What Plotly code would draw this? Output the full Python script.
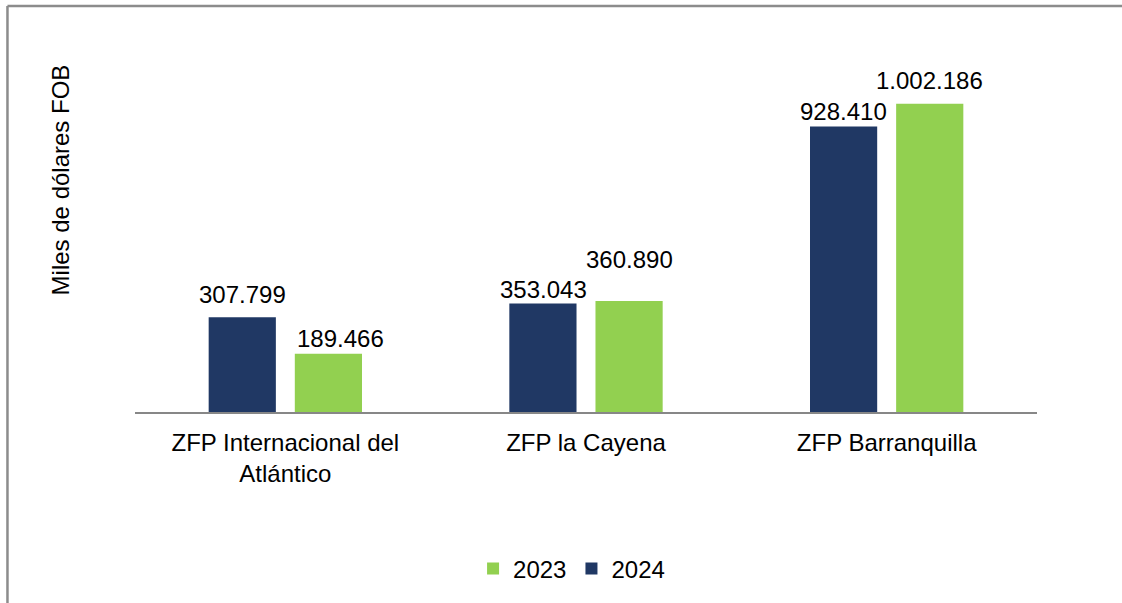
import plotly.graph_objects as go

# ---- data ----
categories = ["ZFP Internacional del<br>Atlántico", "ZFP la Cayena", "ZFP Barranquilla"]
series_names = ["2024", "2023"]
values_2024 = [307799, 353043, 928410]
values_2023 = [189466, 360890, 1002186]
labels_2024 = ["307.799", "353.043", "928.410"]
labels_2023 = ["189.466", "360.890", "1.002.186"]
y_title = "Miles de dólares FOB"

# ---- style ----
FONT = "Arial, 'Liberation Sans', sans-serif"
NAVY = "#203864"
GREEN = "#92D050"
AXIS_GRAY = "#878787"
lift_2024 = [23, 14, 15]
lift_2023 = [15, 42, 23]
nudge_2024 = [0, 0, 0]
nudge_2023 = [12, 0, 0]
GROUP_OFFSET = 43

fig = go.Figure()
fig.add_trace(go.Bar(name=series_names[0], x=categories, y=values_2024,
                     marker=dict(color=NAVY, line=dict(width=0))))
fig.add_trace(go.Bar(name=series_names[1], x=categories, y=values_2023,
                     marker=dict(color=GREEN, line=dict(width=0))))

annotations = []
for i, c in enumerate(categories):
    annotations.append(dict(x=c, y=values_2024[i], xref="x", yref="y", text=labels_2024[i],
                            showarrow=False, xshift=-GROUP_OFFSET + nudge_2024[i],
                            yshift=lift_2024[i], yanchor="middle",
                            font=dict(family=FONT, size=24, color="black")))
    annotations.append(dict(x=c, y=values_2023[i], xref="x", yref="y", text=labels_2023[i],
                            showarrow=False, xshift=GROUP_OFFSET + nudge_2023[i],
                            yshift=lift_2023[i], yanchor="middle",
                            font=dict(family=FONT, size=24, color="black")))
annotations.append(dict(x=-0.083, y=0.628, xref="paper", yref="paper", text=y_title,
                        textangle=-90, showarrow=False, xanchor="center", yanchor="middle",
                        font=dict(family=FONT, size=24, color="black")))

fig.update_layout(
    width=1122, height=603, autosize=False,
    margin=dict(l=135, r=85, t=43, b=189, pad=0),
    paper_bgcolor="white", plot_bgcolor="white",
    font=dict(family=FONT, size=24, color="black"),
    barmode="group", bargap=0.427, bargroupgap=0.22,
    showlegend=True,
    legend=dict(orientation="h", x=0.484, xanchor="center", y=-0.425, yanchor="middle",
                traceorder="reversed", font=dict(family=FONT, size=24, color="black"),
                itemwidth=30, bgcolor="rgba(0,0,0,0)"),
    xaxis=dict(showline=True, linecolor=AXIS_GRAY, linewidth=2, ticks="",
               showgrid=False, zeroline=False, ticklabelstandoff=8,
               tickfont=dict(family=FONT, size=24, color="black")),
    yaxis=dict(range=[0, 1200000], showline=False, showgrid=False, zeroline=False,
               showticklabels=False, ticks=""),
    annotations=annotations,
    shapes=[
        dict(type="line", xref="paper", yref="paper", x0=-0.1414, x1=1.2, y0=1.1, y1=1.1,
             line=dict(color="#8C8C8C", width=2.5)),
        dict(type="line", xref="paper", yref="paper", x0=-0.1414, x1=-0.1414, y0=1.1, y1=-0.6,
             line=dict(color="#8C8C8C", width=2.5)),
    ],
)

fig.write_html("out.html", config={"displayModeBar": False},
               post_script="document.body.style.margin='0';document.body.style.overflow='hidden';")
